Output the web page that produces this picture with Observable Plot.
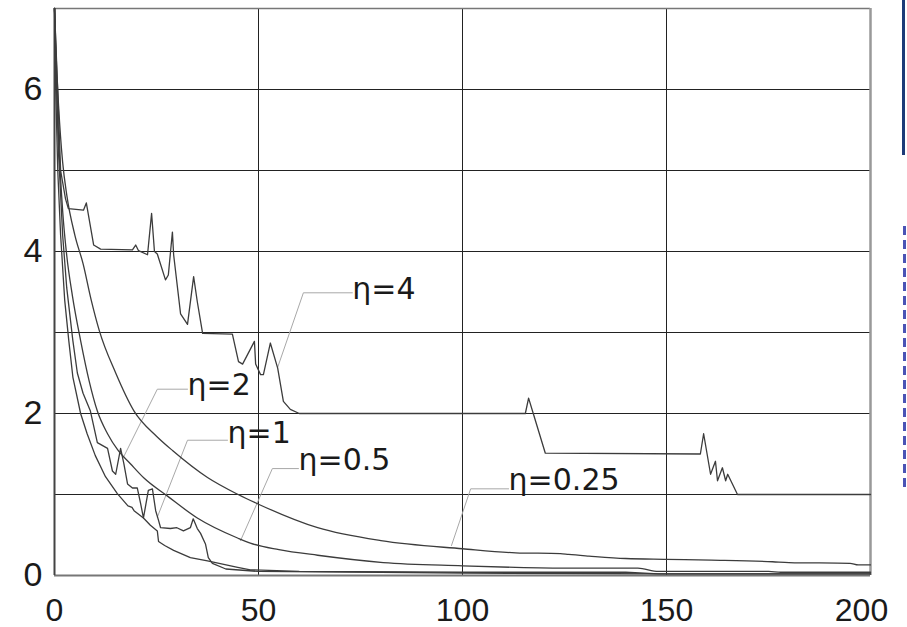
<!DOCTYPE html>
<html>
<head>
<meta charset="utf-8">
<script src="https://cdn.jsdelivr.net/npm/d3@7"></script>
<script src="https://cdn.jsdelivr.net/npm/@observablehq/plot@0.6"></script>
<style>
  html, body { margin: 0; padding: 0; background: #fff; }
  #wrap { position: relative; width: 907px; height: 627px; overflow: hidden; }
  #edge1 { position: absolute; left: 902px; top: 0; width: 3px; height: 155px; background: #1d3b78; }
  #edge2 { position: absolute; left: 903px; top: 226px; width: 3px; height: 262px;
           background: repeating-linear-gradient(to bottom, #2a35a8 0 9px, transparent 9px 14px); opacity: 0.85; }
</style>
</head>
<body>
<div id="wrap"><div id="chart"></div><div id="edge1"></div><div id="edge2"></div></div>
<script>
// ---- data ----
const xTicks = [0, 50, 100, 150, 200];
const yTicks = [0, 2, 4, 6];
const gridXs = [50, 100, 150];
const gridYs = [1, 2, 3, 4, 5, 6];

const eta4X = [0,0.7,1.5,2.7,3.4,7.1,7.8,9.6,11.3,19.1,19.9,20.6,22.8,23.8,24.5,25.2,27.2,27.9,28.9,29.2,30.9,32.6,34.1,35.0,36.3,43.6,45.1,46.1,49.0,49.3,50.5,51.2,52.9,54.7,56.1,57.8,60,115.4,116.2,117.4,120.3,158.3,159.1,160.8,162,162.5,163.7,164.5,165,167.4,200];
const eta4Y = [7,6.1,5.0,4.65,4.53,4.51,4.6,4.08,4.03,4.02,4.08,4.01,3.96,4.47,4.0,3.97,3.65,3.71,4.24,3.96,3.23,3.10,3.69,3.38,2.99,2.98,2.64,2.61,2.89,2.61,2.48,2.48,2.87,2.56,2.15,2.05,2.0,2.0,2.19,1.99,1.51,1.5,1.75,1.25,1.41,1.17,1.33,1.17,1.25,1.0,1.0];

const eta2X = [0,0.4,1,2,3,4.5,5.6,7,8.8,10.5,13,14.2,15,16.2,17,17.9,19.1,20.3,21.1,21.8,23,24,24.8,25.5,26,28.4,30,31.6,33.3,34,35,35.8,37,37.7,38.7,42,50,80,100,150,200];
const eta2Y = [7,6.2,5.2,4.2,3.55,2.9,2.5,2.25,2.03,1.64,1.57,1.29,1.25,1.57,1.38,1.13,1.08,1.08,0.89,0.71,1.05,1.07,0.8,0.68,0.59,0.58,0.59,0.55,0.59,0.7,0.58,0.52,0.39,0.22,0.15,0.08,0.05,0.04,0.03,0.02,0.02];

const eta1X = [0,0.3,0.8,1.5,2.5,3.5,4.5,6.4,8,10,12.5,15.4,18,19,19.5,21.8,23.5,25.2,25.5,27,29.2,33.3,37.5,44.9,48,60,100,140,148,200];
const eta1Y = [7,6.0,5.0,4.2,3.4,2.9,2.45,2.0,1.75,1.48,1.22,1.01,0.86,0.84,0.8,0.71,0.62,0.55,0.42,0.37,0.31,0.22,0.18,0.1,0.07,0.05,0.04,0.04,0.02,0.02];

const eta05X = [0,0.5,1,2,3,4.4,6.4,8.5,10.5,13,15.5,18.6,22,27.7,35,45,48,55,64.5,80.6,100,113,126,143,148,175,178,200];
const eta05Y = [7,6.1,5.4,4.5,3.95,3.45,2.9,2.4,2.03,1.75,1.55,1.38,1.2,0.98,0.71,0.46,0.4,0.32,0.25,0.16,0.12,0.1,0.09,0.09,0.05,0.05,0.04,0.04];

const eta025X = [0,0.5,1,2,3,5,7,9,11,15,19.5,25,29,37.5,45,50,64.5,80,100,113,124,126,131,140,150,161,176,180,195,197,200];
const eta025Y = [7,6.3,5.8,5.1,4.7,4.2,3.85,3.4,3.02,2.5,2.03,1.72,1.54,1.21,1.0,0.88,0.59,0.43,0.33,0.28,0.27,0.26,0.24,0.21,0.2,0.19,0.17,0.16,0.15,0.13,0.13];

const labelText = ["η=4", "η=2", "η=1", "η=0.5", "η=0.25"];
const labelX = [73.0, 32.6, 42.4, 59.8, 111.3];
const labelY = [3.53, 2.35, 1.75, 1.42, 1.17];
// leader polylines: text end -> elbow -> curve
const leaderX = [[73.0, 61.0, 54.7], [32.6, 25.2, 16.9], [42.4, 32.6, 25.2], [59.8, 53.4, 45.6], [111.3, 102.0, 97.3]];
const leaderY = [[3.49, 3.49, 2.57], [2.30, 2.30, 1.46], [1.67, 1.67, 0.72], [1.32, 1.32, 0.43], [1.07, 1.07, 0.37]];

// ---- build tables ----
const toRows = (name, xs, ys) => xs.map((x, i) => ({series: name, x, y: ys[i]}));
const noisy = [
  ...toRows("η=4", eta4X, eta4Y), ...toRows("η=2", eta2X, eta2Y), ...toRows("η=1", eta1X, eta1Y)
];
const smooth = [...toRows("η=0.5", eta05X, eta05Y), ...toRows("η=0.25", eta025X, eta025Y)];
const leaders = leaderX.flatMap((xs, k) => xs.map((x, i) => ({k, x, y: leaderY[k][i]})));
const labels = labelText.map((t, i) => ({t, x: labelX[i], y: labelY[i]}));

const font = "'Liberation Sans', Arial, sans-serif";
const labelFont = "'DejaVu Sans', 'Liberation Sans', sans-serif";
const chart = Plot.plot({
  width: 907, height: 627,
  marginLeft: 54, marginRight: 37, marginTop: 8, marginBottom: 52,
  x: {domain: [0, 200], axis: null},
  y: {domain: [0, 7], axis: null},
  style: {fontFamily: font, background: "#fff", color: "#1a1a1a"},
  marks: [
    Plot.gridX(gridXs, {stroke: "#222", strokeOpacity: 1, strokeWidth: 1}),
    Plot.gridY(gridYs, {stroke: "#222", strokeOpacity: 1, strokeWidth: 1}),
    Plot.ruleY([7], {stroke: "#777", strokeWidth: 1.5}),
    Plot.ruleX([200], {stroke: "#999", strokeWidth: 2.5}),
    Plot.ruleY([0], {stroke: "#777", strokeWidth: 2}),
    Plot.ruleX([0], {stroke: "#444", strokeWidth: 2}),
    Plot.line(leaders, {x: "x", y: "y", z: "k", stroke: "#a8a8a8", strokeWidth: 1}),
    Plot.line(smooth, {x: "x", y: "y", z: "series", stroke: "#3c3c3c", strokeWidth: 1.3, curve: "monotone-x"}),
    Plot.line(noisy, {x: "x", y: "y", z: "series", stroke: "#3c3c3c", strokeWidth: 1.3, curve: "linear"}),
    Plot.text(labels, {x: "x", y: "y", text: "t", textAnchor: "start", fontSize: 30, fontFamily: labelFont, fill: "#1a1a1a"}),
    Plot.text(yTicks, {x: 0, y: d => d, text: d => String(d), textAnchor: "end", dx: -12, fontSize: 34, fill: "#1a1a1a"}),
    Plot.text(xTicks.slice(0, 4), {x: d => d, y: 0, text: d => String(d), dy: 35, fontSize: 32, fill: "#1a1a1a"}),
    Plot.text(xTicks.slice(4), {x: d => d, y: 0, text: d => String(d), dy: 35, dx: -9, fontSize: 32, fill: "#1a1a1a"})
  ]
});
document.getElementById("chart").appendChild(chart);
</script>
</body>
</html>
